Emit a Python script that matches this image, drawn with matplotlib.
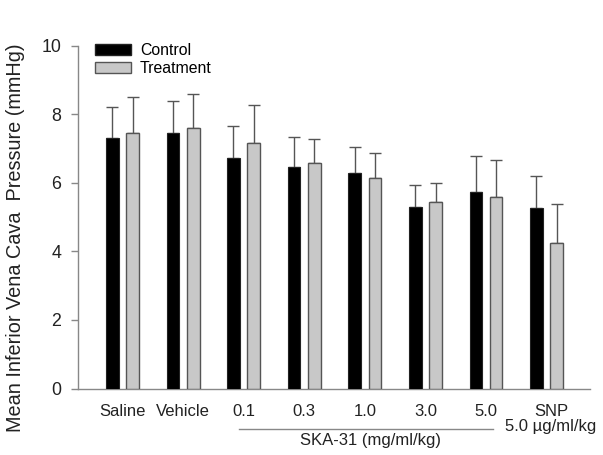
import matplotlib
matplotlib.use("Agg")
import matplotlib.pyplot as plt
import numpy as np
from matplotlib.patches import Patch
from matplotlib.transforms import ScaledTranslation

plt.rcParams['font.family'] = ['Liberation Sans', 'DejaVu Sans']

categories = ["Saline", "Vehicle", "0.1", "0.3", "1.0", "3.0", "5.0", "SNP"]
control = [7.31, 7.45, 6.73, 6.45, 6.29, 5.29, 5.72, 5.26]
control_sem = [0.91, 0.95, 0.92, 0.90, 0.75, 0.65, 1.06, 0.95]
treatment = [7.45, 7.59, 7.15, 6.59, 6.15, 5.43, 5.58, 4.25]
treatment_sem = [1.04, 1.00, 1.13, 0.69, 0.71, 0.57, 1.09, 1.12]
yticks = [0, 2, 4, 6, 8, 10]

W, H = 603, 455
fig = plt.figure(figsize=(W / 100, H / 100), dpi=100)
ax = fig.add_axes([78 / W, (H - 388.5) / H, 512 / W, 342.8 / H])

x = np.arange(len(categories))
bw = 0.21
off = 0.167
ecol = '#555555'
ax.bar(x - off, control, bw, color='black', edgecolor='#222222', linewidth=0.8, zorder=3)
ax.bar(x + off, treatment, bw, color='#c8c8c8', edgecolor='#555555', linewidth=1.0, zorder=3)
ax.errorbar(x - off, control, yerr=[np.zeros(len(x)), control_sem], fmt='none',
            ecolor=ecol, elinewidth=1.0, capsize=4.5, capthick=1.0, zorder=2)
ax.errorbar(x + off, treatment, yerr=[np.zeros(len(x)), treatment_sem], fmt='none',
            ecolor=ecol, elinewidth=1.0, capsize=4.5, capthick=1.0, zorder=2)

ax.set_xlim(-0.733, 7.716)
ax.set_ylim(0, 10)
ax.set_yticks(yticks)
ax.set_yticklabels([str(t) for t in yticks], fontsize=12.8, color='#222222')
ax.set_xticks(x)
ax.set_xticklabels(categories, fontsize=12, color='#222222')
ax.tick_params(axis='x', length=0, pad=11)
ax.tick_params(axis='y', length=5, width=1, color='#888888', pad=7)
lbl = ax.get_xticklabels()[-1]
lbl.set_transform(lbl.get_transform() + ScaledTranslation(5 / 100, 0, fig.dpi_scale_trans))
for s in ['top', 'right']:
    ax.spines[s].set_visible(False)
for s in ['left', 'bottom']:
    ax.spines[s].set_color('#888888')
    ax.spines[s].set_linewidth(1.0)

fig.text(16 / W, (H - 238) / H, "Mean Inferior Vena Cava  Pressure (mmHg)", rotation=90,
         ha='center', va='center', fontsize=14.3, color='#222222')

# group annotation
fig.add_artist(plt.Line2D([239 / W, 493 / W], [(H - 429) / H, (H - 429) / H],
                          color='#888888', linewidth=1.0))
fig.text(370 / W, (H - 440) / H, "SKA-31 (mg/ml/kg)", ha='center', va='center',
         fontsize=12, color='#222222')
fig.text(551 / W, (H - 427) / H, "5.0 \u00b5g/ml/kg", ha='center', va='center',
         fontsize=12, color='#222222')

handles = [Patch(facecolor='black', edgecolor='#222222', label='Control'),
           Patch(facecolor='#c8c8c8', edgecolor='#555555', label='Treatment')]
ax.legend(handles=handles, loc='upper left', bbox_to_anchor=(95 / W, (H - 43) / H),
          bbox_transform=fig.transFigure, frameon=False, fontsize=11.4,
          handlelength=2.3, handleheight=0.65, handletextpad=0.55, labelspacing=0.2,
          borderpad=0, borderaxespad=0)

fig.savefig("out.png", dpi=100)
